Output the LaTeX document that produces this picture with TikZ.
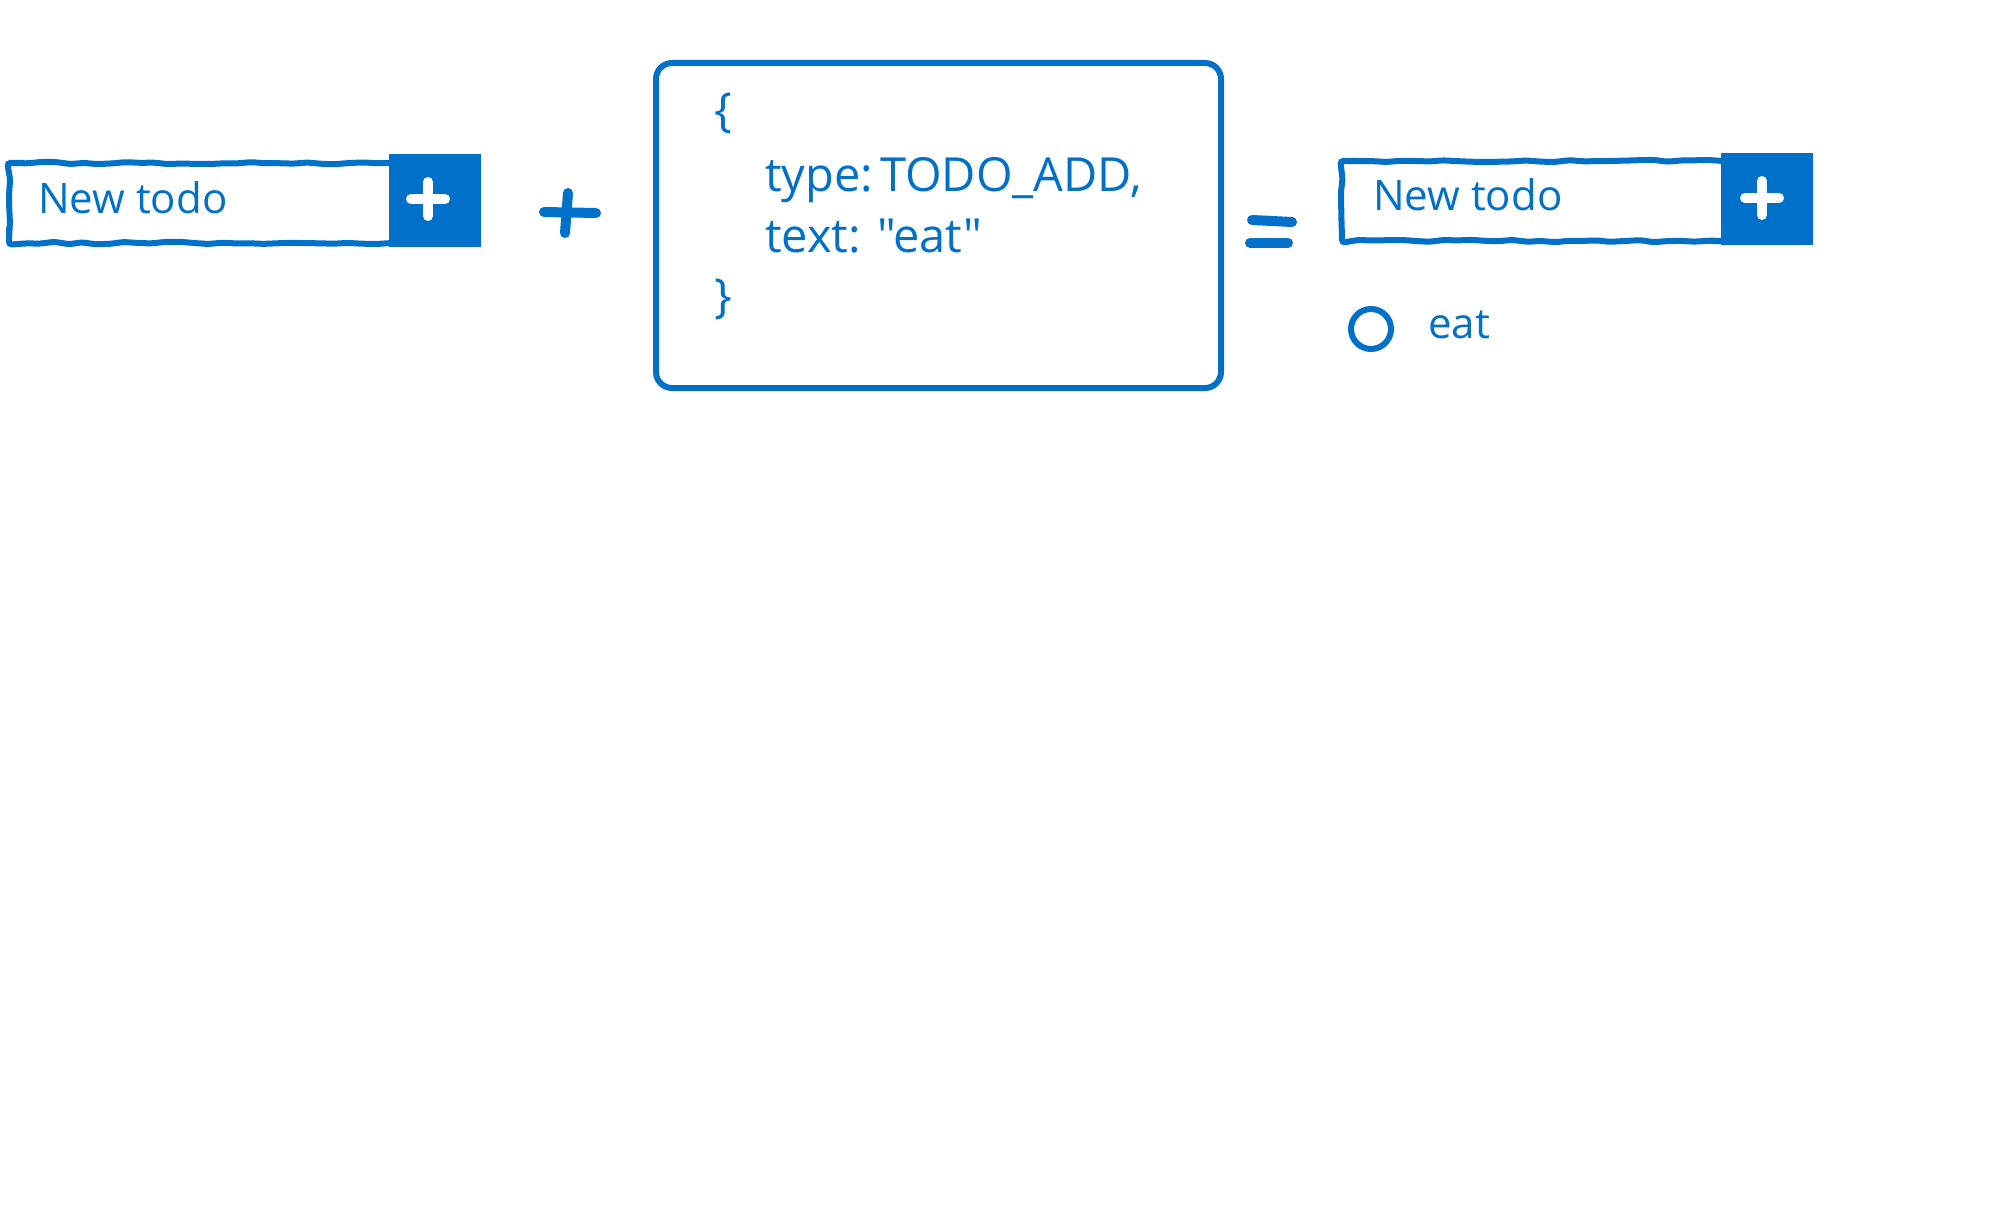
\documentclass[tikz,border=0pt]{standalone}
\usepackage{fontspec}
\setmainfont{Open Sans}[Ligatures=TeXOff]
\usetikzlibrary{decorations.pathmorphing}
\definecolor{ink}{RGB}{0,112,200}
\begin{document}
\pgfmathsetseed{7}
\begin{tikzpicture}[x=1pt,y=-1pt,
  wobble/.style={decorate,decoration={random steps,segment length=14pt,amplitude=1.2pt},rounded corners=3pt},
  field/.style={draw=ink,line width=6pt,wobble,inner sep=0pt,anchor=north west},
  button/.style={fill=ink,draw=ink,line width=2pt,inner sep=0pt,anchor=north west},
  plusarm/.style={draw=white,line width=10pt,line cap=round},
  sym/.style={draw=ink,line width=10pt,line cap=round},
  label/.style={text=ink,font=\fontsize{42}{46}\selectfont,anchor=base west,inner sep=0pt},
  code/.style={text=ink,font=\fontsize{47}{50}\selectfont,anchor=base west,inner sep=0pt},
  codebox/.style={draw=ink,line width=6pt,rounded corners=16pt,inner sep=0pt,anchor=north west}]
\fill[white] (0,0) rectangle (1999,1209);
\useasboundingbox (0,0) rectangle (1999,1209);

% left input
\node[button,minimum width=90pt,minimum height=91pt] (b1) at (389,154) {};
\node[field,minimum width=386pt,minimum height=80pt] (f1) at (6,160) {};
\node[label] (t1) at (38,214) {New todo};
\coordinate (p1) at (428,199);
\draw[plusarm] ([xshift=-17pt]p1) -- ([xshift=17pt]p1);
\draw[plusarm] ([yshift=-17pt]p1) -- ([yshift=17pt]p1);

% plus
\coordinate (plus) at (570,213);
\draw[sym] ([xshift=-26pt,yshift=1pt]plus) -- ([xshift=26pt]plus);
\draw[sym] ([xshift=-5pt,yshift=-20pt]plus) -- ([xshift=-2pt,yshift=20pt]plus);

% action box
\node[codebox,minimum width=565pt,minimum height=325pt] (act) at (653,60) {};
\node[code] (ob) at (714,127) {\{};
\node[code] (k1) at (765,192) {type:};
\node[code] (v1) at (880,192) {TODO\_ADD,};
\node[code] (k2) at (765,252) {text:};
\node[code] (v2) at (877,252) {"eat"};
\node[code] (cb) at (714,312) {\}};

% equals
\coordinate (eq) at (1272,232);
\draw[sym] ([xshift=-22pt,yshift=-11pt]eq) -- ([xshift=16pt,yshift=-11pt]eq);
\draw[sym] ([xshift=-20pt,yshift=12pt]eq) -- ([xshift=20pt,yshift=10pt]eq);

% right input
\node[button,minimum width=90pt,minimum height=90pt] (b2) at (1721,153) {};
\node[field,minimum width=384pt,minimum height=80pt] (f2) at (1339,158) {};
\node[label] (t2) at (1373,211) {New todo};
\coordinate (p2) at (1762,198);
\draw[plusarm] ([xshift=-17pt]p2) -- ([xshift=17pt]p2);
\draw[plusarm] ([yshift=-17pt]p2) -- ([yshift=17pt]p2);

% todo item
\node[draw=ink,line width=6pt,circle,minimum size=40pt,inner sep=0pt] (chk) at (1371,329) {};
\node[label] (item) at (1428,338) {eat};
\end{tikzpicture}
\end{document}
